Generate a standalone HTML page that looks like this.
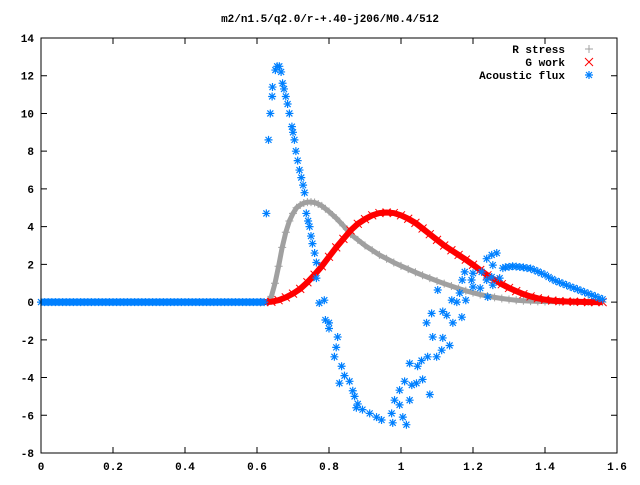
<!DOCTYPE html>
<html><head><meta charset="utf-8"><style>
body{margin:0;background:#fff}
svg text{font-family:"Liberation Mono","DejaVu Sans Mono",monospace;font-size:11px;font-weight:bold;fill:#000}
</style></head><body>
<svg id="chart" width="640" height="480" viewBox="0 0 640 480" xmlns="http://www.w3.org/2000/svg">
<rect width="640" height="480" fill="#fff"/>
<text x="330" y="22" text-anchor="middle">m2/n1.5/q2.0/r-+.40-j206/M0.4/512</text>
<g id="axes"></g>
<g id="series"></g>
<rect x="41" y="38" width="576" height="415" fill="none" stroke="#000" stroke-width="1"/>
<g>
<text x="565" y="53" text-anchor="end">R stress</text>
<text x="565" y="66" text-anchor="end">G work</text>
<text x="565" y="79" text-anchor="end">Acoustic flux</text>
</g>
<g id="legendmarks"></g>
</svg>
<script>
const xTicks=[0,0.2,0.4,0.6,0.8,1,1.2,1.4,1.6];
const xTickLabels=["0","0.2","0.4","0.6","0.8","1","1.2","1.4","1.6"];
const yTicks=[-8,-6,-4,-2,0,2,4,6,8,10,12,14];
const rX=[0.63,0.64,0.65,0.66,0.67,0.68,0.69,0.70,0.71,0.72,0.73,0.74,0.75,0.76,0.77,0.78,0.79,0.80,0.82,0.84,0.86,0.88,0.90,0.92,0.94,0.96,0.98,1.00,1.02,1.04,1.06,1.08,1.10,1.12,1.14,1.16,1.18,1.20,1.22,1.24,1.26,1.28,1.30,1.32,1.34,1.36,1.38,1.40,1.44,1.48,1.52,1.56];
const rY=[0,0.3,1.0,1.9,2.9,3.7,4.3,4.7,5.0,5.15,5.25,5.3,5.3,5.28,5.2,5.1,4.95,4.8,4.45,4.05,3.6,3.3,3.0,2.75,2.5,2.3,2.1,1.92,1.75,1.58,1.42,1.27,1.12,0.98,0.85,0.72,0.6,0.5,0.4,0.32,0.25,0.19,0.14,0.1,0.07,0.05,0.04,0.03,0.02,0.01,0.01,0];
const gX=[0.62,0.64,0.66,0.68,0.70,0.72,0.74,0.76,0.78,0.80,0.82,0.84,0.86,0.88,0.90,0.92,0.94,0.96,0.98,1.00,1.02,1.04,1.06,1.08,1.10,1.12,1.14,1.16,1.18,1.20,1.22,1.24,1.26,1.28,1.30,1.32,1.34,1.36,1.38,1.40,1.42,1.44,1.46,1.48,1.50,1.52,1.54,1.56];
const gY=[0,0.02,0.1,0.25,0.45,0.7,1.05,1.45,1.9,2.4,2.9,3.35,3.8,4.15,4.4,4.6,4.72,4.75,4.72,4.6,4.42,4.2,3.9,3.6,3.3,3.0,2.75,2.5,2.25,1.98,1.7,1.42,1.18,0.95,0.75,0.58,0.42,0.3,0.2,0.13,0.08,0.05,0.03,0.02,0.01,0,0,0];
const aZeroX=[0,0.01,0.02,0.03,0.04,0.05,0.06,0.07,0.08,0.09,0.10,0.11,0.12,0.13,0.14,0.15,0.16,0.17,0.18,0.19,0.20,0.21,0.22,0.23,0.24,0.25,0.26,0.27,0.28,0.29,0.30,0.31,0.32,0.33,0.34,0.35,0.36,0.37,0.38,0.39,0.40,0.41,0.42,0.43,0.44,0.45,0.46,0.47,0.48,0.49,0.50,0.51,0.52,0.53,0.54,0.55,0.56,0.57,0.58,0.59,0.60,0.61,0.62];
const aZeroY=[0,0,0,0,0,0,0,0,0,0,0,0,0,0,0,0,0,0,0,0,0,0,0,0,0,0,0,0,0,0,0,0,0,0,0,0,0,0,0,0,0,0,0,0,0,0,0,0,0,0,0,0,0,0,0,0,0,0,0,0,0,0,0];
const aX=[0.626,0.632,0.637,0.642,0.643,0.651,0.656,0.662,0.667,0.671,0.675,0.68,0.685,0.69,0.697,0.70,0.704,0.708,0.713,0.718,0.723,0.728,0.732,0.737,0.742,0.746,0.75,0.754,0.76,0.765,0.765,0.773,0.787,0.79,0.80,0.80,0.824,0.82,0.815,0.835,0.843,0.829,0.857,0.866,0.871,0.88,0.876,0.893,0.913,0.932,0.946,0.977,0.974,0.982,0.996,1.005,1.015,0.996,1.01,1.024,1.03,1.043,1.06,1.024,1.046,1.057,1.074,1.099,1.08,1.113,1.135,1.116,1.088,1.071,1.085,1.116,1.127,1.144,1.169,1.141,1.155,1.102,1.163,1.18,1.17,1.196,1.2,1.22,1.177,1.2,1.224,1.238,1.252,1.241,1.238,1.252,1.266,1.255,1.274,1.255,1.283,1.29,1.30,1.31,1.32,1.33,1.34,1.35,1.36,1.37,1.38,1.39,1.40,1.41,1.42,1.43,1.44,1.45,1.46,1.47,1.48,1.49,1.50,1.51,1.52,1.53,1.54,1.55,1.56];
const aY=[4.7,8.6,10.0,10.9,11.4,12.3,12.5,12.5,12.2,11.6,11.3,10.9,10.5,10.0,9.3,9.0,8.6,8.0,7.5,7.0,6.6,6.2,5.8,4.7,4.3,4.0,3.5,3.1,2.6,2.1,1.27,-0.05,0.1,-0.95,-1.1,-1.4,-1.85,-2.4,-2.9,-3.4,-3.9,-4.3,-4.2,-4.7,-5.0,-5.4,-5.6,-5.7,-5.9,-6.1,-6.25,-6.4,-5.9,-5.2,-5.45,-6.1,-6.5,-4.67,-4.2,-5.2,-4.4,-4.3,-4.1,-3.25,-3.4,-3.1,-2.9,-2.9,-4.9,-2.55,-2.3,-1.9,-1.85,-1.1,-0.6,-0.5,-0.7,-1.1,-0.8,0.1,0,0.64,0.48,0.1,1.17,1.17,0.8,0.74,1.6,1.53,1.6,1.17,1.33,0.27,2.3,2.5,2.6,1.96,1.27,0.9,1.8,1.85,1.87,1.9,1.88,1.86,1.84,1.8,1.78,1.7,1.62,1.53,1.45,1.33,1.22,1.12,1.05,0.97,0.9,0.82,0.75,0.68,0.6,0.52,0.45,0.37,0.3,0.22,0.15];
const NS="http://www.w3.org/2000/svg";
const X0=41,X1=617,Y0=453,Y1=38,XMIN=0,XMAX=1.6,YMIN=-8,YMAX=14;
function sx(v){return X0+(v-XMIN)/(XMAX-XMIN)*(X1-X0);}
function sy(v){return Y0-(v-YMIN)/(YMAX-YMIN)*(Y0-Y1);}
function mk(tag,at,parent){const e=document.createElementNS(NS,tag);for(const k in at)e.setAttribute(k,at[k]);parent.appendChild(e);return e;}
const axes=document.getElementById('axes');
xTicks.forEach((t,i)=>{const x=sx(t);
 const l=mk('path',{d:`M${x} ${Y0}v-6M${x} ${Y1}v6`,stroke:'#000','stroke-width':1},axes);
 
 
 const tx=mk('text',{x:x,y:Y0+17,'text-anchor':'middle'},axes);tx.textContent=xTickLabels[i];
 
 });
yTicks.forEach(t=>{const y=sy(t);
 const l=mk('path',{d:`M${X0} ${y}h6M${X1} ${y}h-6`,stroke:'#000','stroke-width':1},axes);
 
 
 const tx=mk('text',{x:X0-7,y:y+4,'text-anchor':'end'},axes);tx.textContent=String(t);
 
 });
const ser=document.getElementById('series');
function plus(x,y,c,g){return mk('path',{d:`M${x-4} ${y}h8M${x} ${y-4}v8`,stroke:c,'stroke-width':1,fill:'none'},g);}
function cross(x,y,c,g){return mk('path',{d:`M${x-4} ${y-4}l8 8M${x-4} ${y+4}l8 -8`,stroke:c,'stroke-width':1,fill:'none'},g);}
function star(x,y,c,g){return mk('path',{d:`M${x-4} ${y}h8M${x} ${y-4}v8M${x-3} ${y-3}l6 6M${x-3} ${y+3}l6 -6`,stroke:c,'stroke-width':1.2,fill:'none'},g);}
function band(xs,ys,c,w,g){const p=mk('polyline',{points:xs.map((v,i)=>sx(v)+','+sy(ys[i])).join(' '),fill:'none',stroke:c,'stroke-width':w,'stroke-linejoin':'round'},g);return p;}
const gr=mk('g',{},ser);
const b1=band(rX,rY,'#a0a0a0',5,gr);


rX.forEach((v,i)=>{const m=plus(sx(v),sy(rY[i]),'#a0a0a0',gr);
 
 });
const gg=mk('g',{},ser);
const b2=band(gX,gY,'#ff0000',6,gg);


gX.forEach((v,i)=>{const m=cross(sx(v),sy(gY[i]),'#ff0000',gg);
 
 });
const ga=mk('g',{},ser);
const b3=band(aZeroX,aZeroY,'#0080ff',7,ga);


aZeroX.forEach((v,i)=>{const m=star(sx(v),sy(aZeroY[i]),'#0080ff',ga);
 
 });
aX.forEach((v,i)=>{const m=star(sx(v),sy(aY[i]),'#0080ff',ga);
 
 });
const lm=document.getElementById('legendmarks');
let m1=plus(589,49,'#a0a0a0',lm);


let m2=cross(589,62,'#ff0000',lm);


let m3=star(589,75,'#0080ff',lm);


</script>
</body></html>
